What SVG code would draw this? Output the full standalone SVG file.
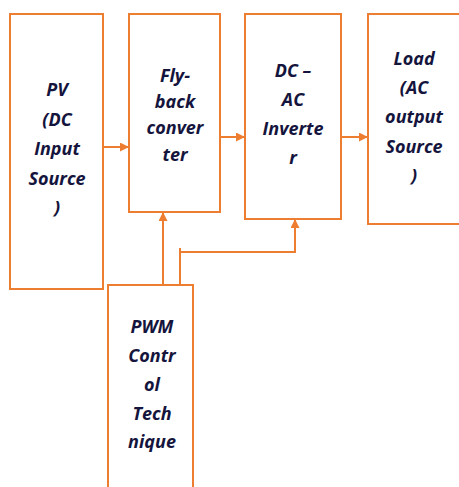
<svg xmlns="http://www.w3.org/2000/svg" width="459" height="487" viewBox="0 0 459 487">
  <style>
    .box { fill: #ffffff; stroke: #ED7D31; stroke-width: 2; }
    .wire { fill: none; stroke: #ED7D31; stroke-width: 2; }
    .lbl { font-family: "Open Sans", Lato, "Liberation Sans", sans-serif; font-size: 18px; font-weight: bold; font-style: italic; fill: #14143c; text-anchor: middle; }
  </style>
  <defs>
    <marker id="head" markerWidth="9" markerHeight="9" refX="8" refY="4.5" orient="auto" markerUnits="userSpaceOnUse">
      <path d="M0,0 L9,4.5 L0,9 Z" fill="#ED7D31"/>
    </marker>
  </defs>
  <rect width="459" height="487" fill="#ffffff"/>

  <g id="connectors">
    <line class="wire" x1="103" y1="147" x2="128" y2="147" marker-end="url(#head)"/>
    <line class="wire" x1="220" y1="137" x2="244" y2="137" marker-end="url(#head)"/>
    <line class="wire" x1="341" y1="137" x2="367" y2="137" marker-end="url(#head)"/>
    <line class="wire" x1="163" y1="285" x2="163" y2="213" marker-end="url(#head)"/>
    <line class="wire" x1="180" y1="285" x2="180" y2="248"/>
    <polyline class="wire" points="180,252 295,252 295,220" marker-end="url(#head)"/>
  </g>

  <g id="pv">
    <rect class="box" x="10" y="14" width="93" height="275"/>
    <text class="lbl" x="57" y="96">PV</text>
    <text class="lbl" x="57" y="126">(DC</text>
    <text class="lbl" x="57" y="155">Input</text>
    <text class="lbl" x="57" y="185">Source</text>
    <text class="lbl" x="57" y="214">)</text>
  </g>

  <g id="flyback">
    <rect class="box" x="129" y="14" width="91" height="198"/>
    <text class="lbl" x="175" y="82">Fly-</text>
    <text class="lbl" x="175" y="108">back</text>
    <text class="lbl" x="175" y="134">conver</text>
    <text class="lbl" x="175" y="161">ter</text>
  </g>

  <g id="inverter">
    <rect class="box" x="245" y="14" width="96" height="205"/>
    <text class="lbl" x="293" y="77">DC –</text>
    <text class="lbl" x="293" y="106">AC</text>
    <text class="lbl" x="293" y="135">Inverte</text>
    <text class="lbl" x="293" y="164">r</text>
  </g>

  <g id="load">
    <rect class="box" x="368" y="14" width="100" height="210"/>
    <text class="lbl" x="414" y="65">Load</text>
    <text class="lbl" x="414" y="94">(AC</text>
    <text class="lbl" x="414" y="123">output</text>
    <text class="lbl" x="414" y="153">Source</text>
    <text class="lbl" x="414" y="182">)</text>
  </g>

  <g id="pwm">
    <rect class="box" x="108" y="285" width="85" height="210"/>
    <text class="lbl" x="152" y="333">PWM</text>
    <text class="lbl" x="152" y="362">Contr</text>
    <text class="lbl" x="152" y="391">ol</text>
    <text class="lbl" x="152" y="420">Tech</text>
    <text class="lbl" x="152" y="448">nique</text>
  </g>
</svg>
